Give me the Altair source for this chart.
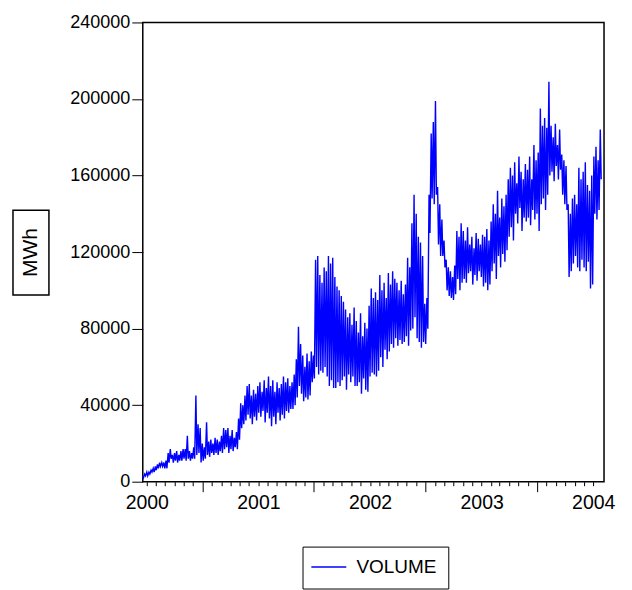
import altair as alt
import pandas as pd

# ---- data ----
SERIES_NAME = "VOLUME"
START_DATE = "1999-12-18"
YEAR_LABELS = [2000, 2001, 2002, 2003, 2004]
Y_TICKS = [0, 40000, 80000, 120000, 160000, 200000, 240000]

# weekly peak (working days) and trough (weekend) volumes, thousand MWh
WEEK_HIGH = [
    3, 4, 5, 5, 6, 7, 8, 9, 10, 10,
    10, 11, 15, 17, 14, 15, 16, 14, 16, 17,
    17, 24, 16, 15, 18, 45, 30, 28, 20, 18,
    31, 21, 22, 20, 23, 22, 21, 24, 28, 27,
    28, 24, 27, 23, 26, 33, 41, 40, 45, 50,
    51, 45, 48, 46, 50, 52, 47, 53, 49, 55,
    50, 53, 47, 52, 49, 51, 55, 52, 54, 50,
    52, 56, 64, 81, 72, 66, 60, 67, 63, 68,
    66, 116, 118, 108, 104, 112, 110, 118, 114, 117,
    107, 102, 100, 97, 94, 90, 86, 88, 82, 91,
    84, 78, 88, 76, 83, 80, 92, 101, 96, 99,
    95, 108, 100, 104, 96, 109, 103, 110, 106, 104,
    100, 105, 98, 103, 117, 112, 135, 150, 140, 128,
    125, 118, 93, 96, 150, 182, 188, 199, 154, 145,
    137, 126, 116, 112, 110, 107, 113, 131, 128, 135,
    131, 126, 133, 124, 128, 122, 130, 127, 124, 129,
    128, 132, 126, 136, 145, 140, 152, 138, 148, 144,
    150, 158, 164, 160, 167, 156, 170, 162, 158, 166,
    163, 170, 158, 176, 168, 172, 195, 186, 190, 185,
    209, 186, 180, 187, 176, 184, 171, 168, 165, 145,
    140, 148, 150, 145, 164, 158, 162, 167, 155, 152,
    160, 170, 175, 168, 184,
]
WEEK_LOW = [
    2, 3, 3, 4, 5, 5, 6, 7, 8, 8,
    7, 7, 10, 12, 10, 11, 10, 11, 11, 12,
    11, 12, 11, 12, 12, 14, 15, 10, 11, 12,
    14, 13, 15, 14, 15, 14, 16, 15, 17, 18,
    15, 17, 16, 18, 17, 22, 28, 30, 32, 35,
    33, 30, 34, 32, 36, 34, 37, 31, 36, 33,
    29, 34, 30, 36, 32, 35, 33, 37, 36, 38,
    38, 40, 44, 50, 46, 42, 44, 43, 45, 52,
    54, 60, 56, 58, 57, 60, 55, 50, 53, 49,
    49, 52, 50, 53, 55, 48, 56, 52, 55, 50,
    50, 52, 46, 54, 48, 47, 55, 57, 56, 55,
    58, 65, 60, 69, 64, 68, 72, 70, 75, 71,
    74, 72, 73, 76, 71, 79, 80, 86, 75, 73,
    70, 73, 72, 80, 130, 148, 145, 150, 124, 118,
    118, 112, 100, 97, 96, 95, 98, 106, 100, 104,
    106, 104, 109, 110, 103, 108, 105, 110, 107, 102,
    104, 100, 103, 110, 114, 106, 118, 112, 119, 115,
    121, 128, 133, 126, 140, 135, 143, 131, 138, 136,
    138, 134, 142, 137, 140, 131, 145, 148, 142, 150,
    160, 162, 157, 165, 158, 163, 150, 145, 142, 107,
    110, 114, 118, 112, 110, 116, 112, 110, 115, 101,
    103, 140, 137, 142, 158,
]


def frac_year(ts):
    days = 366 if ts.is_leap_year else 365
    return ts.year + (ts.dayofyear - 1) / days


start = pd.Timestamp(START_DATE)
rows = []
for i, (hi, lo) in enumerate(zip(WEEK_HIGH, WEEK_LOW)):
    d_hi = start + pd.Timedelta(days=7 * i)
    d_lo = start + pd.Timedelta(days=7 * i + 3)
    rows.append({"t": frac_year(d_hi), "v": hi * 1000, "series": SERIES_NAME})
    rows.append({"t": frac_year(d_lo), "v": lo * 1000, "series": SERIES_NAME})
df = pd.DataFrame(rows)

# month-start tick positions
month_ticks = []
for y in range(2000, 2005):
    for m in range(1, 13):
        ts = pd.Timestamp(year=y, month=m, day=1)
        if ts <= pd.Timestamp("2004-01-31"):
            month_ticks.append(round(frac_year(ts), 6))

X_DOMAIN = [1999.964, 2004.0965]
FONT = "Liberation Sans"

x_axis = alt.Axis(
    values=month_ticks,
    title=None,
    grid=False,
    domain=False,
    tickColor="black",
    tickWidth=1,
    tickSize={"condition": {"test": "abs((datum.value - floor(datum.value)) * 12 - 6) < 0.2", "value": 10}, "value": 4},
    labelExpr="abs(datum.value - round(datum.value)) < 0.0001 ? format(datum.value, 'd') : ''",
    labelOverlap=False,
    labelFlush=False,
    labelFontSize=19.5,
    labelColor="black",
    labelPadding=8,
)
y_axis = alt.Axis(
    values=Y_TICKS,
    title=None,
    grid=False,
    domain=False,
    tickColor="black",
    tickWidth=1,
    tickSize=11,
    labelFontSize=18,
    labelColor="black",
    labelPadding=2,
    format="d",
)

line = alt.Chart(df).mark_line(strokeWidth=1.4).encode(
    x=alt.X("t:Q", scale=alt.Scale(domain=X_DOMAIN, nice=False, zero=False), axis=x_axis),
    y=alt.Y("v:Q", scale=alt.Scale(domain=[0, 240000], nice=False), axis=y_axis),
    color=alt.Color(
        "series:N",
        scale=alt.Scale(domain=[SERIES_NAME], range=["#0000FF"]),
        legend=alt.Legend(
            title=None,
            orient="none",
            legendX=160,
            legendY=525,
            symbolType="M-2,0L4,0",
            symbolSize=136,
            symbolStrokeWidth=1.5,
            symbolStrokeColor="#0000FF",
            labelFontSize=19,
            labelColor="black",
            labelOffset=24,
            strokeColor="black",
            padding=11,
        ),
    ),
)

title_df = pd.DataFrame({"label": ["MWh"]})
title_box = alt.Chart(title_df).mark_rect(fill="white", stroke="black", strokeWidth=1.5).encode(
    x=alt.value(-130), x2=alt.value(-94), y=alt.value(188), y2=alt.value(273)
)
title_text = alt.Chart(title_df).mark_text(angle=270, fontSize=21, color="black", baseline="middle", align="center").encode(
    text="label:N", x=alt.value(-112), y=alt.value(230.5)
)

chart = alt.layer(title_box, title_text, line).properties(
    width=462,
    height=460,
    autosize=alt.AutoSizeParams(type="none"),
    padding={"left": 135, "top": 14, "right": 20, "bottom": 108},
).configure(font=FONT).configure_view(stroke="black", strokeWidth=1.5)

chart.save("out.html", embed_options={"renderer": "svg", "actions": False})
